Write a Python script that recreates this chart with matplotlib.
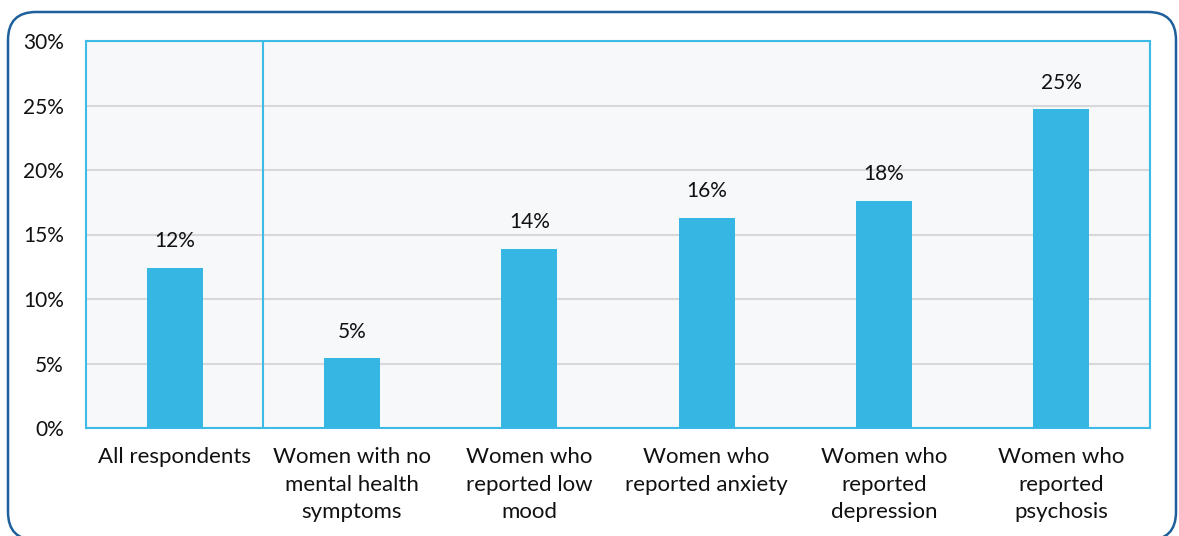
import matplotlib

matplotlib.use("Agg")
import matplotlib.pyplot as plt
from matplotlib.patches import FancyBboxPatch
from matplotlib.ticker import FuncFormatter, MultipleLocator

# Share of respondents (%) per group
CATEGORIES = [
    "All respondents",
    "Women with no\nmental health\nsymptoms",
    "Women who\nreported low\nmood",
    "Women who\nreported anxiety",
    "Women who\nreported\ndepression",
    "Women who\nreported\npsychosis",
]
VALUES = [12.4, 5.4, 13.9, 16.3, 17.6, 24.7]

BAR_COLOR = "#35b6e3"
EDGE_COLOR = "#3dbbe6"
FRAME_COLOR = "#1f5f9c"
GRID_COLOR = "#d8d8da"
PANEL_BG = "#f7f8fa"

W, H = 1179, 536
plt.rcParams["font.family"] = ["Lato", "DejaVu Sans"]

fig = plt.figure(figsize=(W / 100, H / 100), dpi=100)

# rounded outer frame, drawn in pixel units
bg = fig.add_axes([0, 0, 1, 1], zorder=0)
bg.set_xlim(0, W)
bg.set_ylim(0, H)
bg.axis("off")
bg.add_patch(FancyBboxPatch((8, -4), 1168, 528, boxstyle="round,pad=0,rounding_size=28",
                            fill=False, edgecolor=FRAME_COLOR, linewidth=1.8))

ax = fig.add_axes([86 / W, (H - 428) / H, 1064 / W, 387 / H], zorder=1)
ax.set_facecolor(PANEL_BG)
x = list(range(len(CATEGORIES)))
bars = ax.bar(x, VALUES, width=0.315, color=BAR_COLOR, zorder=3)
for rect, v in zip(bars, VALUES):
    ax.annotate(f"{v:.0f}%", (rect.get_x() + rect.get_width() / 2, v),
                xytext=(0, 12), textcoords="offset points",
                ha="center", va="bottom", fontsize=15, color="#111111")

ax.set_xlim(-0.5, len(CATEGORIES) - 0.5)
ax.set_ylim(0, 30)
ax.yaxis.set_major_locator(MultipleLocator(5))
ax.yaxis.set_major_formatter(FuncFormatter(lambda v, _: f"{v:.0f}%"))
ax.grid(axis="y", color=GRID_COLOR, linewidth=1.5, zorder=1)
ax.axvline(0.5, color=EDGE_COLOR, linewidth=1.5, zorder=2)

ax.set_xticks(x)
ax.set_xticklabels(CATEGORIES, fontsize=16, linespacing=1.45, color="#111111")
ax.tick_params(axis="x", length=0, pad=14)
ax.tick_params(axis="y", length=0, pad=16, labelsize=15, labelcolor="#111111")
for s in ax.spines.values():
    s.set_color(EDGE_COLOR)
    s.set_linewidth(1.5)

fig.savefig("out.png", dpi=100)
